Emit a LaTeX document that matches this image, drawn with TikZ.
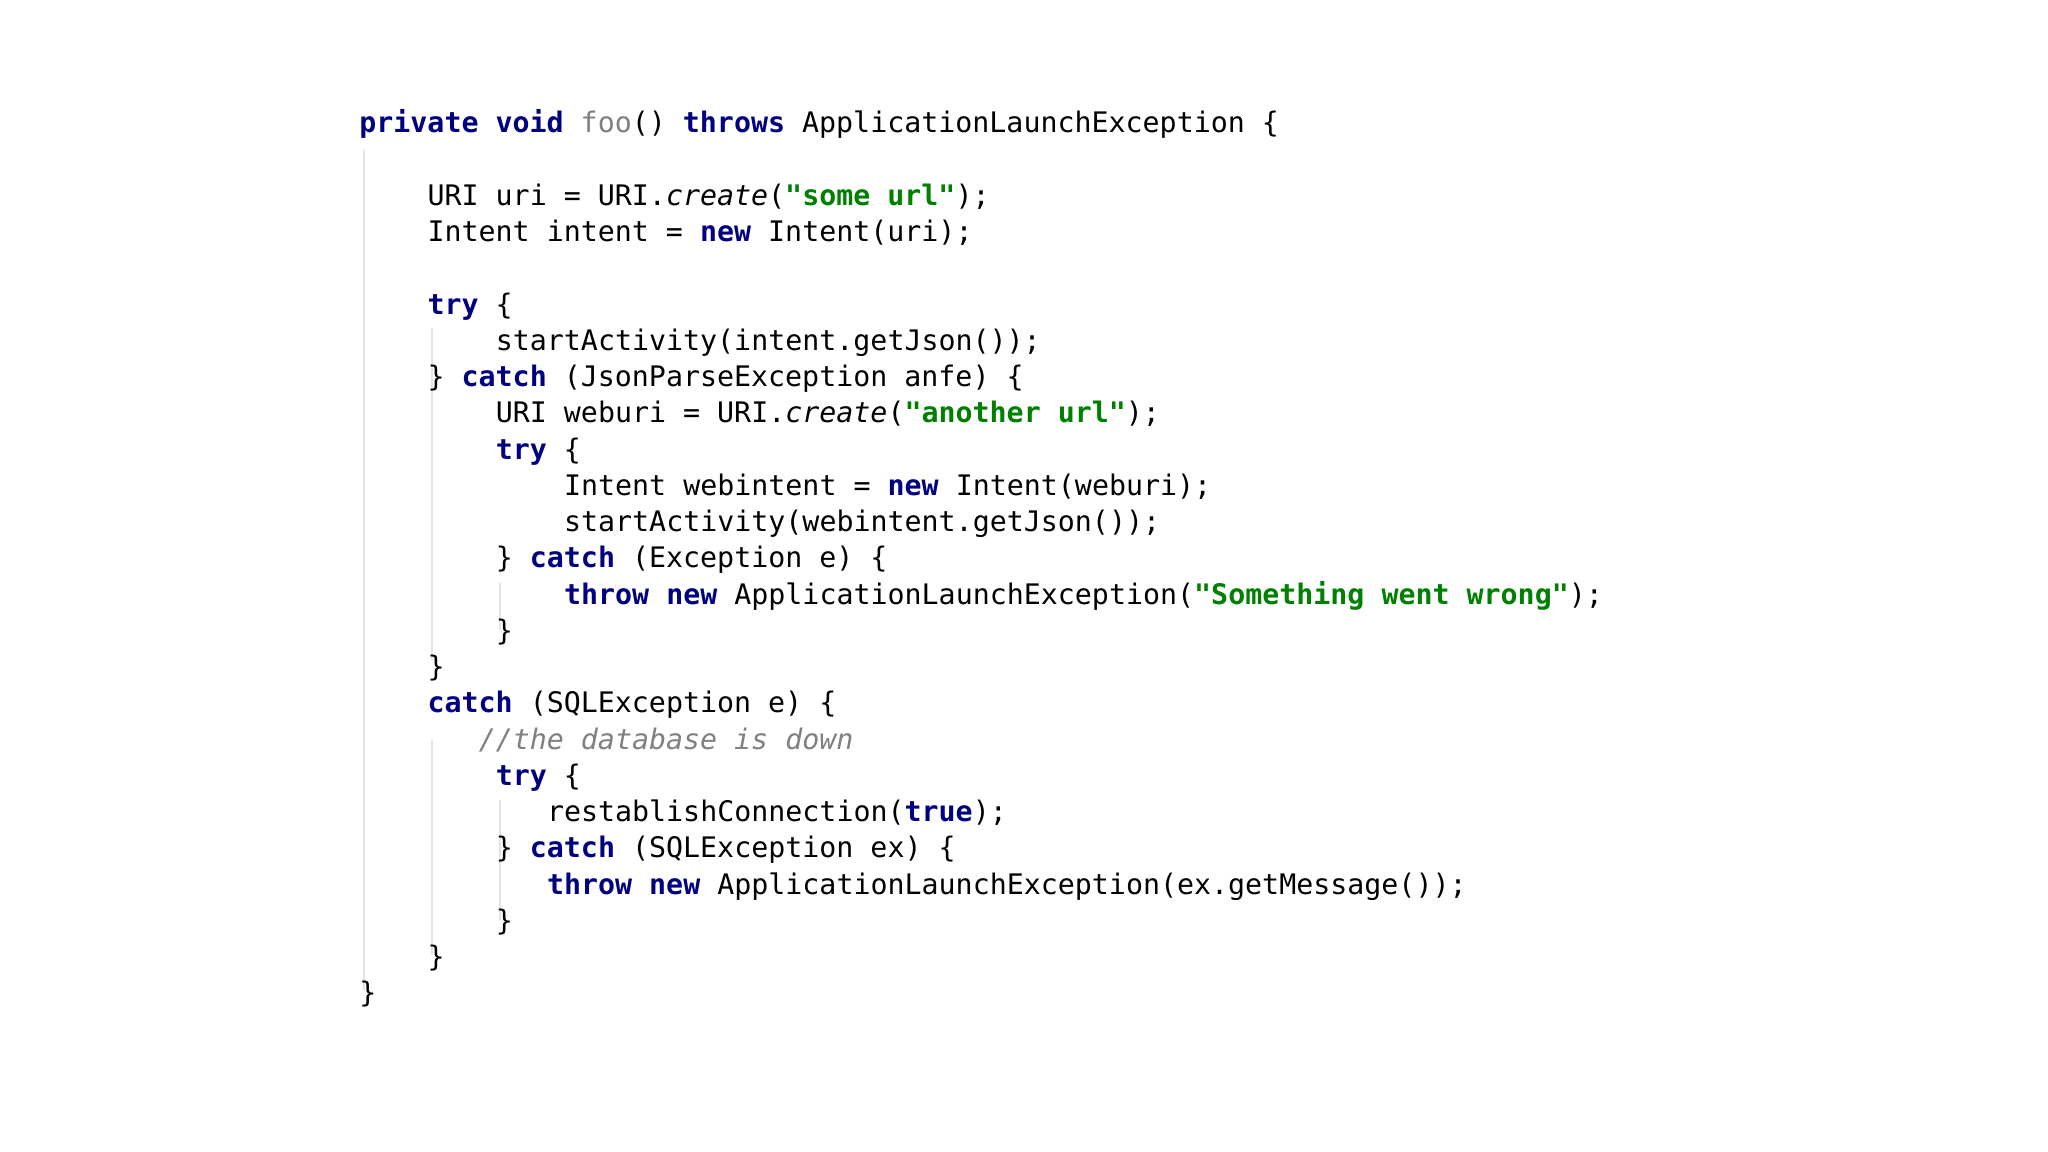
\documentclass[tikz,border=0pt]{standalone}
\usepackage{fontspec}
\setmonofont{DejaVu Sans Mono}
\definecolor{kwc}{HTML}{000080}
\definecolor{strc}{HTML}{008000}
\definecolor{grc}{HTML}{808080}
\definecolor{guide}{HTML}{E4E4E4}
\newcommand{\kw}[1]{\textbf{\color{kwc}#1}}
\newcommand{\st}[1]{\textbf{\color{strc}#1}}
\begin{document}
\begin{tikzpicture}[x=0.02cm,y=-0.02cm,
  codeline/.style={anchor=base west,inner sep=0pt,font=\ttfamily\fontsize{16.1pt}{18pt}\selectfont,text=black},
  guideline/.style={draw=guide,line width=0.8pt}]
\useasboundingbox (0,0) rectangle (2048,1152);
\fill[white] (0,0) rectangle (2048,1152);
\def\cw{17.06}
\def\ls{36.24}
% guides
\draw[guideline] (364,150) -- (364,990);
\draw[guideline] (432,328) -- (432,660);
\draw[guideline] (432,740) -- (432,955);
\draw[guideline] (500,583) -- (500,630);
\draw[guideline] (500,800) -- (500,920);
\newcommand{\cl}[3]{\node[codeline] (l#1) at ({359+#2*\cw},{133+#1*\ls}) {#3};}
\cl{0}{0}{\kw{private} \kw{void} {\color{grc}foo}() \kw{throws} ApplicationLaunchException \{}
\cl{2}{4}{URI uri = URI.\textit{create}(\st{"some url"});}
\cl{3}{4}{Intent intent = \kw{new} Intent(uri);}
\cl{5}{4}{\kw{try} \{}
\cl{6}{8}{startActivity(intent.getJson());}
\cl{7}{4}{\} \kw{catch} (JsonParseException anfe) \{}
\cl{8}{8}{URI weburi = URI.\textit{create}(\st{"another url"});}
\cl{9}{8}{\kw{try} \{}
\cl{10}{12}{Intent webintent = \kw{new} Intent(weburi);}
\cl{11}{12}{startActivity(webintent.getJson());}
\cl{12}{8}{\} \kw{catch} (Exception e) \{}
\cl{13}{12}{\kw{throw} \kw{new} ApplicationLaunchException(\st{"Something went wrong"});}
\cl{14}{8}{\}}
\cl{15}{4}{\}}
\cl{16}{4}{\kw{catch} (SQLException e) \{}
\cl{17}{7}{{\color{grc}\itshape //the database is down}}
\cl{18}{8}{\kw{try} \{}
\cl{19}{11}{restablishConnection(\kw{true});}
\cl{20}{8}{\} \kw{catch} (SQLException ex) \{}
\cl{21}{11}{\kw{throw} \kw{new} ApplicationLaunchException(ex.getMessage());}
\cl{22}{8}{\}}
\cl{23}{4}{\}}
\cl{24}{0}{\}}
\end{tikzpicture}
\end{document}
